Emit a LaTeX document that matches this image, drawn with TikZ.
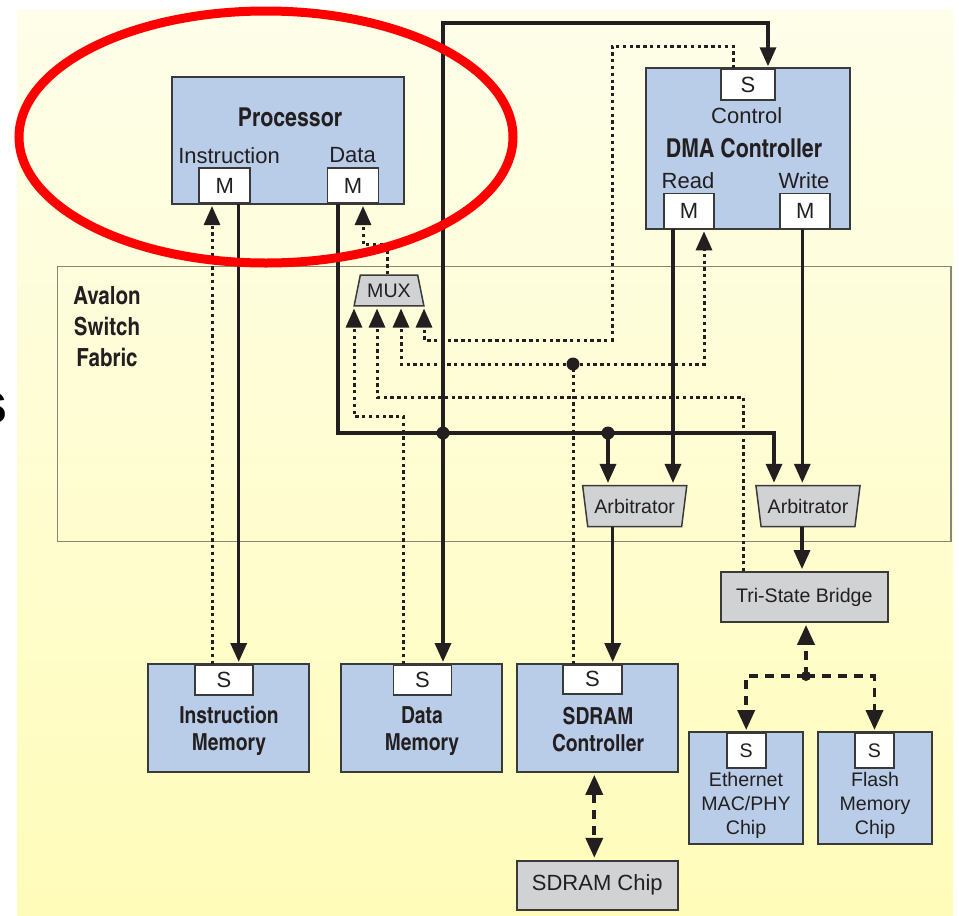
\documentclass[tikz,border=0pt]{standalone}
\usepackage{fontspec}
\setmainfont{Liberation Sans}
\newfontfamily\heavycond{texgyreheroscn-bold.otf}
\usetikzlibrary{arrows.meta,shapes.geometric}

\definecolor{unitblue}{RGB}{185,205,232}
\definecolor{boxgrey}{RGB}{209,210,212}
\definecolor{edgegray}{RGB}{58,58,58}
\definecolor{ink}{RGB}{35,31,32}
\definecolor{fabricline}{RGB}{135,135,120}
\definecolor{bgtop}{RGB}{254,254,234}
\definecolor{bgbottom}{RGB}{255,252,186}

\begin{document}
\begin{tikzpicture}[x=1pt,y=1pt,yscale=-1,
	unit/.style={draw=edgegray,line width=1.8pt,fill=unitblue,inner sep=0pt},
	greybox/.style={draw=edgegray,line width=1.8pt,fill=boxgrey,inner sep=0pt,text=ink,font=\fontsize{19.6}{24}\selectfont},
	port/.style={draw=edgegray,line width=1.8pt,fill=white,inner sep=0pt,text=ink,font=\fontsize{22}{24}\selectfont},
	lbl/.style={inner sep=0pt,text=ink,font=\fontsize{22}{24}\selectfont},
	lblsmall/.style={inner sep=0pt,text=ink,align=center,font=\fontsize{19.6}{24}\selectfont},
	heading/.style={inner sep=0pt,text=ink,align=center,font=\heavycond\fontsize{23.5}{27}\selectfont},
	mux/.style={trapezium,trapezium stretches=true,draw=edgegray,line width=1.5pt,fill=boxgrey,inner sep=0pt,text=ink,font=\fontsize{19.6}{24}\selectfont},
	bus/.style={draw=ink,line width=3.4pt},
	rdata/.style={draw=ink,line width=3pt,dash pattern=on 3.3pt off 3.5pt},
	offchip/.style={draw=ink,line width=3.8pt,dash pattern=on 9pt off 7pt},
	headed/.style={-{Triangle[length=19pt,width=16pt]},shorten >=2pt},
	extheaded/.style={-{Triangle[length=20pt,width=17pt]},shorten >=2pt},
	]
	\fill[white] (0,0) rectangle (959,916);
	\shade[top color=bgtop,bottom color=bgbottom] (17.3,9.3) rectangle (953,916);
	\useasboundingbox (0,0) rectangle (959,916);
	\node[font=\bfseries\fontsize{58}{60}\selectfont,anchor=base east,inner sep=0pt,text=black] (cutoff) at (8,423) {s};

	\node[draw=fabricline,line width=1.5pt,minimum width=893.7pt,minimum height=275pt,inner sep=0pt] (fabric) at (504.2,404.2) {};
	\node[heading,font=\heavycond\fontsize{25}{31}\selectfont] (fabricT) at (107,327) {Avalon\\Switch\\Fabric};

	\node[unit,minimum width=232pt,minimum height=127pt] (proc) at (288,140.5) {};
	\node[heading,font=\heavycond\fontsize{26}{27}\selectfont] (procT) at (290,117) {Processor};
	\node[lbl] (procIT) at (229,155.5) {Instruction};
	\node[lbl] (procDT) at (352.5,155.5) {Data};
	\node[port,anchor=south,minimum width=51pt,minimum height=35pt] (procI) at (224.7,204) {M};
	\node[port,anchor=south,minimum width=51pt,minimum height=35pt] (procD) at (353,204) {M};

	\node[unit,minimum width=204pt,minimum height=161pt] (dma) at (748,148.8) {};
	\node[port,anchor=north,minimum width=54pt,minimum height=31pt] (dmaS) at (748,68.3) {S};
	\node[lbl] (dmaCT) at (746.7,116) {Control};
	\node[heading,font=\heavycond\fontsize{26}{27}\selectfont] (dmaT) at (744,148) {DMA Controller};
	\node[lbl] (dmaRT) at (688,181) {Read};
	\node[lbl] (dmaWT) at (804,181) {Write};
	\node[port,anchor=south,minimum width=50pt,minimum height=35pt] (dmaR) at (689,229.3) {M};
	\node[port,anchor=south,minimum width=50pt,minimum height=35pt] (dmaW) at (805.3,229.3) {M};

	\node[mux,minimum width=70pt,minimum height=30.7pt,trapezium left angle=71,trapezium right angle=71] (mux) at (389,290.4) {MUX};
	\node[mux,minimum width=105pt,minimum height=41pt,trapezium left angle=107,trapezium right angle=107] (arb1) at (634.7,506.2) {Arbitrator};
	\node[mux,minimum width=105pt,minimum height=41pt,trapezium left angle=107,trapezium right angle=107] (arb2) at (808,506) {Arbitrator};
	\node[greybox,minimum width=166.7pt,minimum height=50pt] (bridge) at (804.3,597) {Tri-State Bridge};

	\node[unit,minimum width=161pt,minimum height=108pt] (imem) at (228.5,718) {};
	\node[port,anchor=north,minimum width=58pt,minimum height=30pt] (imemS) at (224,664) {S};
	\node[heading] (imemT) at (229,731) {Instruction\\Memory};
	\node[unit,minimum width=161pt,minimum height=108pt] (dmem) at (421.5,718) {};
	\node[port,anchor=north,minimum width=58pt,minimum height=30pt] (dmemS) at (422.5,664) {S};
	\node[heading] (dmemT) at (422,731) {Data\\Memory};
	\node[unit,minimum width=161pt,minimum height=108pt] (sdc) at (597.3,718) {};
	\node[port,anchor=north,minimum width=59pt,minimum height=29pt] (sdcS) at (592.5,664) {S};
	\node[heading] (sdcT) at (598,730) {SDRAM\\Controller};
	\node[greybox,minimum width=161pt,minimum height=49.3pt,font=\fontsize{22}{24}\selectfont] (chip) at (597.3,885.3) {SDRAM Chip};

	\node[unit,minimum width=114pt,minimum height=112pt] (eth) at (746,788) {};
	\node[port,anchor=north,minimum width=39pt,minimum height=35pt,font=\fontsize{19.6}{24}\selectfont] (ethS) at (746.2,732) {S};
	\node[lblsmall] (ethT) at (746,805) {Ethernet\\MAC/PHY\\Chip};
	\node[unit,minimum width=114pt,minimum height=112pt] (flash) at (875,788) {};
	\node[port,anchor=north,minimum width=39pt,minimum height=35pt,font=\fontsize{19.6}{24}\selectfont] (flashS) at (874.5,732) {S};
	\node[lblsmall] (flashT) at (875,805) {Flash\\Memory\\Chip};

	\coordinate (j1) at (443,433);
	\coordinate (j2) at (608,433);
	\coordinate (j3) at (573,364);
	\coordinate (j4) at (806,676);
	\coordinate (ctrlTop) at (443,23);
	\coordinate (ctrlRet) at (612,340);

	\draw[bus,headed] ([xshift=14pt]procI.south) -- ([xshift=14pt]procI.south |- imemS.north);
	\draw[bus,headed] ([xshift=-15pt]procD.south) |- (j1) -| ([xshift=-34pt]arb2.north);
	\draw[bus,headed] (j2) -- (j2 |- arb1.north);
	\draw[bus,headed] (j1) -- (j1 |- dmemS.north);
	\draw[bus,headed] (j1) -- (ctrlTop) -| ([xshift=20pt]dmaS.north);
	\draw[bus,headed] ([xshift=-16pt]dmaR.south) -- ([xshift=-16pt]dmaR.south |- arb1.north);
	\draw[bus,headed] ([xshift=-3pt]dmaW.south) -- ([xshift=-3pt]dmaW.south |- arb2.north);
	\draw[bus,headed] ([xshift=-22pt]arb1.south) -- ([xshift=-22pt]arb1.south |- sdcS.north);
	\draw[bus,headed] ([xshift=-6pt]arb2.south) -- ([xshift=-6pt]arb2.south |- bridge.north);

	\draw[rdata,headed] ([xshift=-12pt]imemS.north) -- ([xshift=-12pt]imemS.north |- procI.south);
	\draw[rdata,headed] ([xshift=-2pt]mux.north) -- ++(0,-30) -| ([xshift=10pt]procD.south);
	\draw[rdata,headed] ([xshift=-19.5pt]dmemS.north) -- ++(0,-248) -| ([xshift=-35pt]mux.south);
	\draw[rdata,headed] ([xshift=-61pt]bridge.north) -- ++(0,-174) -| ([xshift=-12pt]mux.south);
	\draw[rdata] ([xshift=-19.5pt]sdcS.north) -- (j3);
	\draw[rdata,headed] (j3) -| ([xshift=12pt]mux.south);
	\draw[rdata,headed] (j3) -| ([xshift=15pt]dmaR.south);
	\draw[rdata,headed] ([xshift=-15pt]dmaS.north) -- ++(0,-22.3) -| (ctrlRet) -| ([xshift=35pt]mux.south);

	\draw[offchip,{Triangle[length=20pt,width=17pt]}-{Triangle[length=20pt,width=17pt]},shorten <=2pt,shorten >=2pt] ([xshift=-3pt]sdc.south) -- ([xshift=-3pt]sdc.south |- chip.north);
	\draw[offchip,extheaded] (j4) -- (j4 |- bridge.south);
	\draw[offchip,extheaded] (j4) -| (ethS.north);
	\draw[offchip,extheaded] (j4) -| (flashS.north);

	\fill[ink] (j1) circle[radius=6.5] (j2) circle[radius=6.5] (j3) circle[radius=6.5] (j4) circle[radius=5];

	\draw[red,line width=9pt] (266,137) ellipse[x radius=247,y radius=126];
\end{tikzpicture}
\end{document}
